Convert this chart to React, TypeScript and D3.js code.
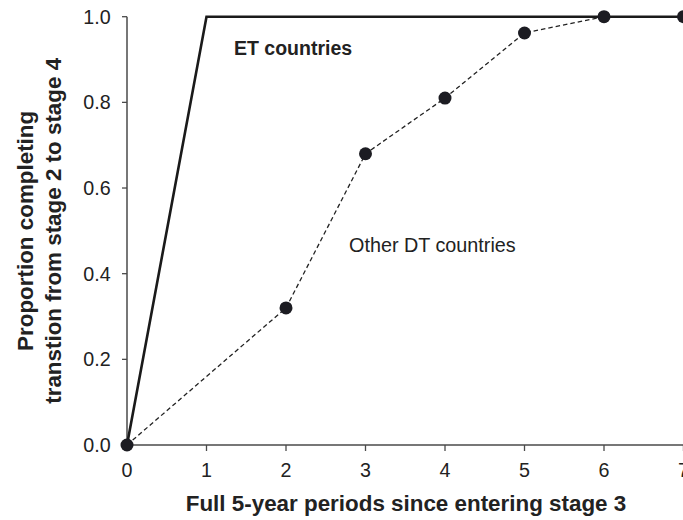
import React from "react";
import * as d3 from "d3";

const periods = [0, 1, 2, 3, 4, 5, 6, 7];
const etValues = [0, 1, 1, 1, 1, 1, 1, 1];
const dtPeriods = [0, 2, 3, 4, 5, 6, 7];
const dtValues = [0, 0.32, 0.68, 0.81, 0.962, 1.0, 1.0];
const xTicks = [0, 1, 2, 3, 4, 5, 6, 7];
const yTicks = [0, 0.2, 0.4, 0.6, 0.8, 1.0];

const W = 683;
const H = 520;
const FONT = "'Liberation Sans', Arial, Helvetica, sans-serif";

export default function App() {
  const x = d3.scaleLinear().domain([0, 7]).range([127, 683.5]);
  const y = d3.scaleLinear().domain([0, 1]).range([445, 16.7]);

  const etLine = d3
    .line<number>()
    .x((_, i) => x(periods[i]))
    .y((d) => y(d));
  const dtLine = d3
    .line<number>()
    .x((_, i) => x(dtPeriods[i]))
    .y((d) => y(d));

  const axisColor = "#4a4a4a";
  const textColor = "#222";
  const midY = (y(0) + y(1)) / 2;

  return (
    <svg
      width={W}
      height={H}
      style={{ position: "absolute", left: 0, top: 0, background: "#fff" }}
      fontFamily={FONT}
    >
      {/* axes */}
      <line x1={x(0)} x2={x(0)} y1={y(1)} y2={y(0)} stroke={axisColor} strokeWidth={1.5} />
      <line x1={x(0)} x2={W} y1={y(0)} y2={y(0)} stroke={axisColor} strokeWidth={1.5} />
      {yTicks.map((t) => (
        <g key={"y" + t}>
          <line x1={x(0) - 5} x2={x(0)} y1={y(t)} y2={y(t)} stroke={axisColor} strokeWidth={1.3} />
          <text
            x={x(0) - 16.3}
            y={y(t)}
            dy="0.35em"
            textAnchor="end"
            fontSize={19.7}
            fill={textColor}
          >
            {t.toFixed(1)}
          </text>
        </g>
      ))}
      {xTicks.map((t) => (
        <g key={"x" + t}>
          <line x1={x(t)} x2={x(t)} y1={y(0)} y2={y(0) + 6} stroke={axisColor} strokeWidth={1.3} />
          <text x={x(t)} y={477} textAnchor="middle" fontSize={19.7} fill={textColor}>
            {t}
          </text>
        </g>
      ))}

      {/* series */}
      <path d={dtLine(dtValues) || ""} fill="none" stroke="#222" strokeWidth={1.3} strokeDasharray="4.5,3" />
      <path d={etLine(etValues) || ""} fill="none" stroke="#1a1a1a" strokeWidth={2.6} />
      {dtValues.map((v, i) => (
        <circle key={"c" + i} cx={x(dtPeriods[i])} cy={y(v)} r={6.5} fill="#1c1c22" />
      ))}

      {/* labels */}
      <text x={234} y={55} fontSize={19.5} fontWeight="bold" fill={textColor}>
        ET countries
      </text>
      <text x={349} y={252} fontSize={19.8} fill={textColor}>
        Other DT countries
      </text>

      {/* axis titles */}
      <text x={406} y={511} textAnchor="middle" fontSize={22.4} fontWeight="bold" fill={textColor}>
        Full 5-year periods since entering stage 3
      </text>
      <g transform={`translate(33, ${midY}) rotate(-90)`}>
        <text x={0} y={0} textAnchor="middle" fontSize={22.4} fontWeight="bold" fill={textColor}>
          Proportion completing
        </text>
        <text x={0} y={27.5} textAnchor="middle" fontSize={22.4} fontWeight="bold" fill={textColor}>
          transtion from stage 2 to stage 4
        </text>
      </g>
    </svg>
  );
}
